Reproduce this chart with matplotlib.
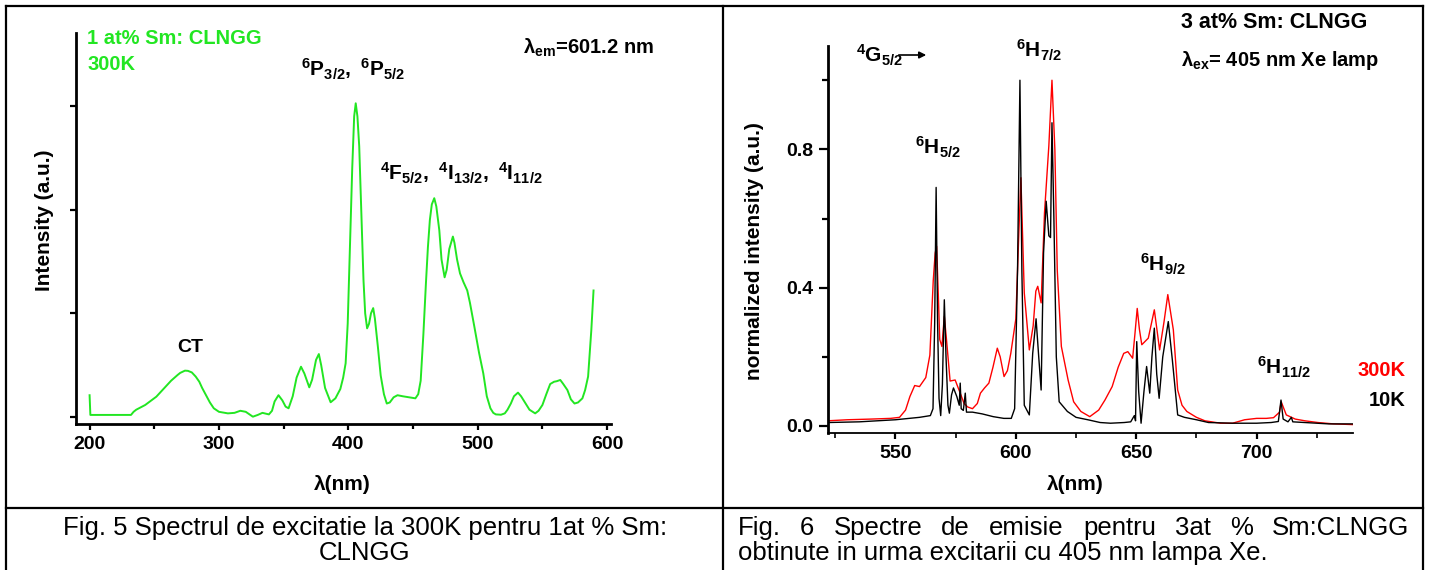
import matplotlib
matplotlib.use('Agg')
import matplotlib.pyplot as plt
from matplotlib.lines import Line2D
from matplotlib.patches import FancyArrowPatch

plt.rcParams['font.family'] = ['Liberation Sans', 'DejaVu Sans']
plt.rcParams['font.weight'] = 'bold'
plt.rcParams['mathtext.fontset'] = 'custom'
plt.rcParams['mathtext.rm'] = 'Liberation Sans'
plt.rcParams['mathtext.bf'] = 'Liberation Sans:bold'
plt.rcParams['mathtext.it'] = 'Liberation Sans:italic'
plt.rcParams['mathtext.default'] = 'bf'

# Fig. 5 - excitation spectrum, 1 at% Sm, 300K (a.u., ticks at 0..3)
exc_nm = [200, 200.6, 215, 232, 234, 236, 243, 251.6, 259.9, 263, 268, 270, 273.7, 276, 279,
          282, 284.8, 287, 290, 293, 296, 300, 306.9, 312, 316.5, 320.7, 323, 326.2, 330,
          333.6, 338.6, 341, 343, 346, 349, 351.5, 353.8, 357, 360, 363.4, 366, 369.8, 372,
          375, 377.2, 379, 382, 386.3, 390, 393.8, 396, 397.9, 399.5, 401.2, 403, 404.5,
          405.7, 407, 408.4, 410, 411.7, 413, 414.5, 416, 417.5, 419.2, 420.5, 422.8, 425,
          427.5, 429.7, 432, 435, 438, 442, 447, 451.8, 454, 455.9, 458, 460, 461.5, 463,
          464.5, 466.4, 468, 470.3, 472, 474.4, 476, 478, 480.8, 482, 484, 486.3, 489, 491.9,
          494, 497.4, 501, 504.3, 507, 509.8, 512, 514, 518, 520.9, 523, 525.6, 528, 531.1,
          533.5, 536.1, 540, 544.4, 547, 550, 553, 556, 559, 561, 563.8, 566, 569.3, 572,
          574.8, 577.5, 580.9, 583, 585.3, 587.8, 589.5]
exc_int = [0.21, 0.02, 0.02, 0.02, 0.05, 0.07, 0.116, 0.196, 0.309, 0.35, 0.405, 0.425, 0.447,
           0.445, 0.43, 0.39, 0.34, 0.28, 0.21, 0.14, 0.084, 0.05, 0.035, 0.04, 0.06, 0.05,
           0.03, 0.003, 0.02, 0.04, 0.025, 0.06, 0.15, 0.21, 0.16, 0.1, 0.084, 0.2, 0.38,
           0.485, 0.42, 0.286, 0.36, 0.55, 0.607, 0.5, 0.28, 0.142, 0.18, 0.27, 0.38, 0.518,
           0.9, 1.64, 2.4, 2.9, 3.025, 2.9, 2.61, 2.0, 1.32, 1.0, 0.855, 0.9, 1.0, 1.05, 0.95,
           0.68, 0.4, 0.22, 0.13, 0.14, 0.19, 0.21, 0.2, 0.19, 0.18, 0.22, 0.35, 0.8, 1.3,
           1.64, 1.9, 2.05, 2.11, 2.03, 1.80, 1.52, 1.347, 1.42, 1.62, 1.74, 1.68, 1.52, 1.385,
           1.3, 1.22, 1.1, 0.87, 0.62, 0.42, 0.2, 0.084, 0.04, 0.025, 0.022, 0.035, 0.07, 0.13,
           0.2, 0.235, 0.2, 0.148, 0.07, 0.035, 0.06, 0.116, 0.22, 0.318, 0.34, 0.345, 0.357,
           0.32, 0.26, 0.17, 0.13, 0.14, 0.18, 0.26, 0.39, 0.84, 1.22]

# Fig. 6 - emission spectra, 3 at% Sm, normalized
em300_nm = [522, 530, 540, 548, 551.7, 554.2, 556, 558, 560, 562.6, 564.3, 565.7, 566.5, 567.1,
            567.8, 568.4, 569.3, 570.3, 571.2, 572.7, 574.8, 576.9, 578.5, 580, 582, 584, 585.3,
            587, 588.8, 590.5, 592.3, 593.5, 595.1, 596.5, 597.9, 600, 601.2, 602.1, 602.8,
            603.5, 605.6, 607.2, 608.3, 609.1, 610.5, 611.9, 613.7, 615, 616.2, 617.2, 618.9,
            621.7, 624, 627, 630.7, 634.4, 637, 640, 642.5, 644.8, 646.5, 648.5, 649.5, 650.4,
            651.3, 652.3, 655, 657.5, 659.7, 661.5, 663.1, 665.4, 667.2, 669, 671, 675, 678.5,
            685, 690, 695, 700, 704, 707, 709.5, 710.2, 711.3, 712.3, 716, 720, 725.4, 732, 740]
em300 = [0.015, 0.018, 0.02, 0.022, 0.025, 0.046, 0.085, 0.117, 0.114, 0.14, 0.205, 0.42, 0.50,
         0.52, 0.38, 0.25, 0.23, 0.317, 0.25, 0.13, 0.133, 0.095, 0.065, 0.055, 0.05, 0.065,
         0.095, 0.11, 0.124, 0.17, 0.225, 0.2, 0.143, 0.16, 0.21, 0.31, 0.55, 0.718, 0.55,
         0.385, 0.22, 0.29, 0.39, 0.404, 0.356, 0.617, 0.81, 1.0, 0.8, 0.45, 0.23, 0.133, 0.07,
         0.042, 0.027, 0.046, 0.075, 0.114, 0.17, 0.21, 0.215, 0.196, 0.27, 0.34, 0.28, 0.235,
         0.254, 0.336, 0.22, 0.3, 0.38, 0.278, 0.104, 0.06, 0.042, 0.025, 0.015, 0.008, 0.008,
         0.018, 0.022, 0.022, 0.024, 0.04, 0.07, 0.05, 0.032, 0.02, 0.015, 0.01, 0.006, 0.004]

em10_nm = [522, 535, 550, 560, 564.5, 565.6, 566.3, 566.9, 567.5, 568.1, 568.8, 569.5, 570.3,
           571, 571.8, 572.4, 573.3, 574.1, 575.5, 576.5, 576.9, 577.3, 578.2, 579, 579.5, 582,
           586, 590.6, 595, 598.1, 599.5, 600.7, 601.7, 602.5, 603.5, 605.6, 607, 608.4, 609.5,
           610.5, 611.5, 612.6, 613.7, 614.4, 615, 615.8, 616.8, 618, 621.4, 625, 629.9, 635,
           639.3, 645, 647.7, 649.2, 649.7, 650.2, 651, 652, 653.2, 654.3, 655.6, 656.5, 657.5,
           658.5, 659.5, 661, 663.3, 665, 667.2, 670, 675, 680, 690, 700, 706, 709, 710.1, 711,
           713, 714.4, 715, 720, 730, 740]
em10 = [0.01, 0.012, 0.018, 0.025, 0.03, 0.05, 0.3, 0.69, 0.3, 0.08, 0.03, 0.12, 0.365, 0.2,
        0.06, 0.037, 0.09, 0.11, 0.085, 0.06, 0.124, 0.05, 0.045, 0.095, 0.04, 0.04, 0.035,
        0.027, 0.022, 0.022, 0.05, 0.45, 1.0, 0.45, 0.06, 0.032, 0.21, 0.31, 0.2, 0.104, 0.5,
        0.65, 0.55, 0.545, 0.877, 0.6, 0.2, 0.07, 0.042, 0.025, 0.018, 0.01, 0.008, 0.01,
        0.012, 0.03, 0.015, 0.244, 0.1, 0.008, 0.1, 0.172, 0.095, 0.2, 0.283, 0.15, 0.08, 0.2,
        0.302, 0.19, 0.032, 0.025, 0.018, 0.01, 0.008, 0.008, 0.01, 0.013, 0.075, 0.02, 0.012,
        0.025, 0.012, 0.01, 0.006, 0.006]

W, H = 1429, 570
green = '#22e622'


def fx(px):
    return px / W


def fy(py):
    return 1 - py / H


fig = plt.figure(figsize=(W / 100, H / 100), dpi=100)

# table borders
for x0, y0, x1, y1 in [(6, 6, 1423, 6), (6, 508, 1423, 508), (6, 6, 6, 570),
                       (723, 6, 723, 570), (1423, 6, 1423, 570)]:
    fig.add_artist(Line2D([fx(x0), fx(x1)], [fy(y0), fy(y1)], color='black', lw=1.6,
                          transform=fig.transFigure))

# ---- left panel ----
ax1 = fig.add_axes([fx(76), fy(424), (611 - 76) / W, (424 - 33) / H])
ax1.plot(exc_nm, exc_int, color=green, lw=1.4)
ax1.set_xlim(189.5, 603)
ax1.set_ylim(-0.0675, 3.703)
ax1.set_xticks([200, 300, 400, 500, 600])
ax1.set_xticks([250, 350, 450, 550], minor=True)
ax1.set_yticks([0, 1, 2, 3])
ax1.tick_params(labelleft=False)
ax1.tick_params(axis='both', which='major', direction='out', length=4.5, width=1.6,
                labelsize=14, pad=4)
ax1.tick_params(axis='x', which='minor', direction='out', length=3.5, width=1.6)
for s in ['top', 'right']:
    ax1.spines[s].set_visible(False)
for s in ['left', 'bottom']:
    ax1.spines[s].set_linewidth(2)

fig.text(fx(44), fy(220), 'Intensity (a.u.)', rotation=90, ha='center', va='center',
         fontsize=15)
fig.text(fx(342), fy(484), 'λ(nm)', ha='center', va='center', fontsize=15)
fig.text(fx(87), fy(39), '1 at% Sm: CLNGG', color=green, ha='left', va='center',
         fontsize=14.5)
fig.text(fx(87), fy(64), '300K', color=green, ha='left', va='center', fontsize=14.5)
fig.text(fx(523), fy(54), 'λ$_{em}$=601.2 nm', ha='left', va='baseline', fontsize=14.5)
ax1.text(403.6, 3.28, r'${}^{6}P_{3/2},\ {}^{6}P_{5/2}$', ha='center', va='baseline',
         fontsize=15)
ax1.text(487, 2.285, r'${}^{4}F_{5/2},\ {}^{4}I_{13/2},\ {}^{4}I_{11/2}$', ha='center',
         va='baseline', fontsize=15)
ax1.text(277.7, 0.675, 'CT', ha='center', va='center', fontsize=14)

# ---- right panel ----
ax2 = fig.add_axes([fx(828), fy(433), (1353 - 828) / W, (433 - 46) / H])
ax2.plot(em300_nm, em300, color='red', lw=1.0)
ax2.plot(em10_nm, em10, color='black', lw=1.0)
ax2.set_xlim(522, 740)
ax2.set_ylim(-0.0203, 1.099)
ax2.set_xticks([550, 600, 650, 700])
ax2.set_xticks([525, 575, 625, 675, 725], minor=True)
ax2.set_yticks([0.0, 0.4, 0.8])
ax2.set_yticklabels(['0.0', '0.4', '0.8'])
ax2.set_yticks([0.2, 0.6, 1.0], minor=True)
ax2.tick_params(axis='both', which='major', direction='out', width=1.6, labelsize=14,
                pad=4)
ax2.tick_params(axis='y', which='major', length=6.5)
ax2.tick_params(axis='y', which='minor', direction='out', length=4.5, width=1.6)
ax2.tick_params(axis='x', which='major', length=4.5)
ax2.tick_params(axis='x', which='minor', direction='out', length=3.5, width=1.2)
for s in ['top', 'right']:
    ax2.spines[s].set_visible(False)
ax2.spines['left'].set_linewidth(2)
ax2.spines['bottom'].set_linewidth(1.3)

fig.text(fx(755), fy(251), 'normalized intensity (a.u.)', rotation=90, ha='center',
         va='center', fontsize=15)
fig.text(fx(1075), fy(484), 'λ(nm)', ha='center', va='center', fontsize=15)
fig.text(fx(1274), fy(22), '3 at% Sm: CLNGG', ha='center', va='center', fontsize=15.5)
fig.text(fx(1280), fy(66), 'λ$_{ex}$= 405 nm Xe lamp', ha='center', va='baseline',
         fontsize=14.5)
fig.text(fx(1405), fy(371), '300K', color='red', ha='right', va='center', fontsize=14.5)
fig.text(fx(1405), fy(400), '10K', color='black', ha='right', va='center', fontsize=14.5)
ax2.text(533.8, 1.052, r'${}^{4}G_{5/2}$', ha='left', va='baseline', fontsize=15)
fig.add_artist(FancyArrowPatch((fx(896), fy(55)), (fx(929), fy(55)), arrowstyle='-|>',
                               mutation_scale=10, lw=1.2, color='black',
                               transform=fig.transFigure))
ax2.text(567.5, 0.785, r'${}^{6}H_{5/2}$', ha='center', va='baseline', fontsize=15)
ax2.text(609.4, 1.067, r'${}^{6}H_{7/2}$', ha='center', va='baseline', fontsize=15)
ax2.text(661, 0.446, r'${}^{6}H_{9/2}$', ha='center', va='baseline', fontsize=15)
ax2.text(711.3, 0.148, r'${}^{6}H_{11/2}$', ha='center', va='baseline', fontsize=15)

# ---- captions ----
cap_size = 18.5
fig.text(fx(365), fy(535), 'Fig. 5 Spectrul de excitatie la 300K pentru 1at % Sm:',
         ha='center', va='baseline', fontsize=cap_size, fontweight='normal')
fig.text(fx(365), fy(560), 'CLNGG', ha='center', va='baseline', fontsize=cap_size,
         fontweight='normal')

# justified first line of the right caption
words = 'Fig. 6 Spectre de emisie pentru 3at % Sm:CLNGG'.split()
renderer = fig.canvas.get_renderer()
objs = [fig.text(0, fy(535), w, ha='left', va='baseline', fontsize=cap_size,
                 fontweight='normal') for w in words]
widths = [o.get_window_extent(renderer).width for o in objs]
x_left, x_right = 738, 1409
gap = (x_right - x_left - sum(widths)) / (len(words) - 1)
xpos = x_left
for o, wd in zip(objs, widths):
    o.set_x(fx(xpos))
    xpos += wd + gap
fig.text(fx(738), fy(560), 'obtinute in urma excitarii cu 405 nm lampa Xe.', ha='left',
         va='baseline', fontsize=cap_size, fontweight='normal')

fig.savefig('out.png', dpi=100)
